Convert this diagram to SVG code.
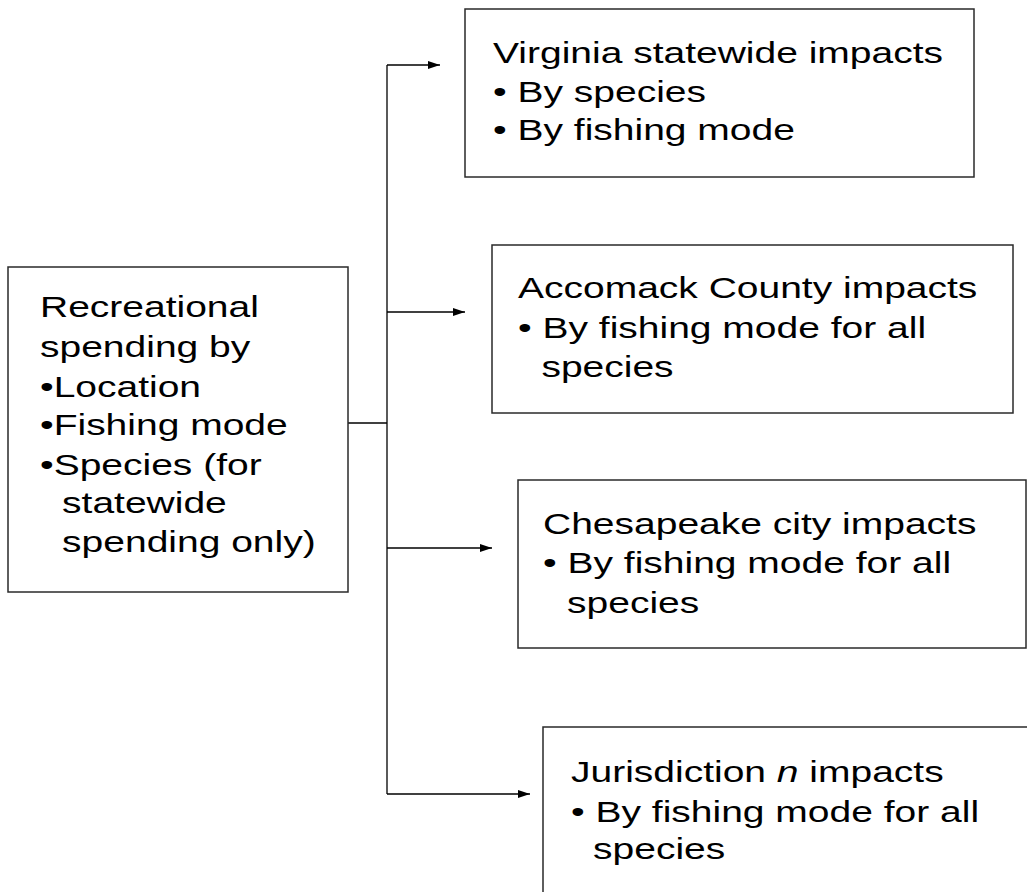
<svg xmlns="http://www.w3.org/2000/svg" width="1027" height="892" viewBox="0 0 1027 892">
  <style>
    .box { fill: #ffffff; stroke: #2a2a2a; stroke-width: 1.5; }
    .conn { fill: none; stroke: #000000; stroke-width: 1.3; }
    .t { font-family: "Liberation Sans", Arial, sans-serif; font-size: 30px; fill: #000000; }
  </style>
  <defs>
    <marker id="arrow" markerUnits="userSpaceOnUse" markerWidth="13" markerHeight="9" refX="12" refY="4" orient="auto">
      <path d="M0,0 L12,4 L0,8 Z" fill="#000000"/>
    </marker>
  </defs>
  <rect width="1027" height="892" fill="#ffffff"/>

  <g id="connectors">
    <path class="conn" d="M348,423 H387"/>
    <path class="conn" d="M387,65 V794"/>
    <path class="conn" d="M387,65 H440" marker-end="url(#arrow)"/>
    <path class="conn" d="M387,312 H465" marker-end="url(#arrow)"/>
    <path class="conn" d="M387,548 H492" marker-end="url(#arrow)"/>
    <path class="conn" d="M387,794 H530" marker-end="url(#arrow)"/>
  </g>

  <g id="node-spending">
    <rect class="box" x="8" y="267" width="340" height="325"/>
    <text class="t" transform="translate(40 317) scale(1.3 1)">
      <tspan x="0" y="0">Recreational</tspan>
      <tspan x="0" y="40">spending by</tspan>
      <tspan x="0" y="80">•Location</tspan>
      <tspan x="0" y="118">•Fishing mode</tspan>
      <tspan x="0" y="158">•Species (for</tspan>
      <tspan x="17" y="196">statewide</tspan>
      <tspan x="17" y="235">spending only)</tspan>
    </text>
  </g>

  <g id="node-virginia">
    <rect class="box" x="465" y="9" width="509" height="168"/>
    <text class="t" transform="translate(493 63) scale(1.3 1)">
      <tspan x="0" y="0">Virginia statewide impacts</tspan>
      <tspan x="0" y="39">• By species</tspan>
      <tspan x="0" y="77">• By fishing mode</tspan>
    </text>
  </g>

  <g id="node-accomack">
    <rect class="box" x="492" y="245" width="521" height="168"/>
    <text class="t" transform="translate(518 298) scale(1.3 1)">
      <tspan x="0" y="0">Accomack County impacts</tspan>
      <tspan x="0" y="40">• By fishing mode for all</tspan>
      <tspan x="18" y="79">species</tspan>
    </text>
  </g>

  <g id="node-chesapeake">
    <rect class="box" x="518" y="480" width="508" height="168"/>
    <text class="t" transform="translate(543 534) scale(1.3 1)">
      <tspan x="0" y="0">Chesapeake city impacts</tspan>
      <tspan x="0" y="39">• By fishing mode for all</tspan>
      <tspan x="18.5" y="79">species</tspan>
    </text>
  </g>

  <g id="node-jurisdiction">
    <rect class="box" x="543" y="727" width="520" height="200"/>
    <text class="t" transform="translate(571 782) scale(1.3 1)">
      <tspan x="0" y="0">Jurisdiction <tspan font-style="italic">n</tspan> impacts</tspan>
      <tspan x="0" y="40">• By fishing mode for all</tspan>
      <tspan x="17" y="77">species</tspan>
    </text>
  </g>
</svg>
